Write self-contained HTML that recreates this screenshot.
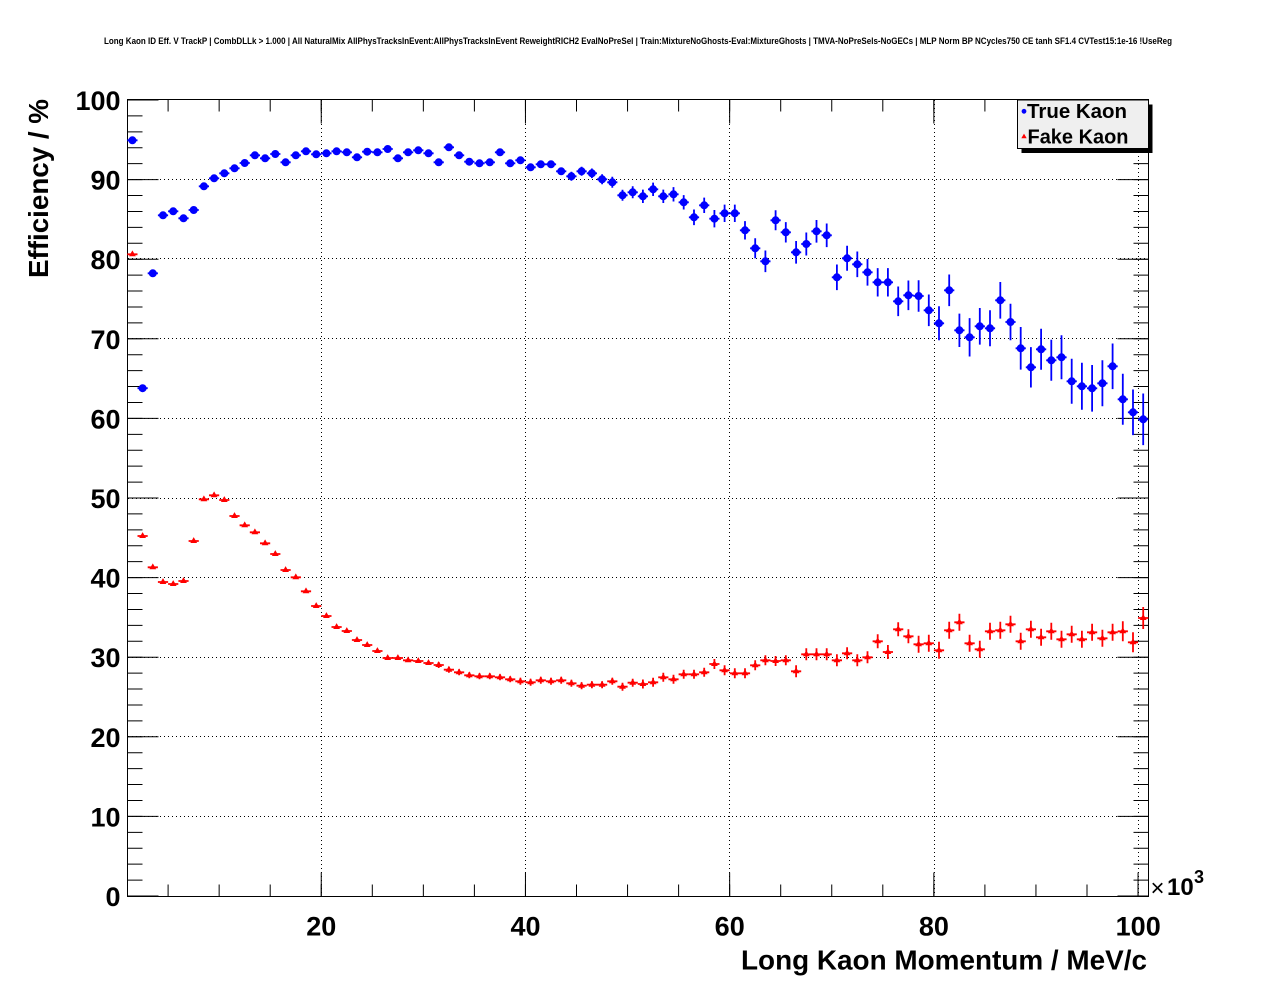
<!DOCTYPE html>
<html><head><meta charset="utf-8"><style>
html,body{margin:0;padding:0;background:#fff;}
svg{display:block;}
text{font-family:"Liberation Sans",Arial,Helvetica,sans-serif;}
</style></head><body>
<svg width="1276" height="996" viewBox="0 0 1276 996" xmlns="http://www.w3.org/2000/svg">
<rect x="0" y="0" width="1276" height="996" fill="#fff"/>
<text x="638" y="44" font-size="9" font-weight="bold" text-anchor="middle" textLength="1068" lengthAdjust="spacingAndGlyphs">Long Kaon ID Eff. V TrackP | CombDLLk &gt; 1.000 | All NaturalMix AllPhysTracksInEvent:AllPhysTracksInEvent ReweightRICH2 EvalNoPreSel | Train:MixtureNoGhosts-Eval:MixtureGhosts | TMVA-NoPreSels-NoGECs | MLP Norm BP NCycles750 CE tanh SF1.4 CVTest15:1e-16 !UseReg</text>

<g stroke="#000" stroke-width="1" stroke-dasharray="1 3" fill="none">
<path d="M321.5 100V896M525.5 100V896M729.5 100V896M934.5 100V896M1138.5 100V896"/>
<path d="M128 816.5H1148M128 736.5H1148M128 657.5H1148M128 577.5H1148M128 498.5H1148M128 418.5H1148M128 338.5H1148M128 258.5H1148M128 179.5H1148"/>
</g>

<g stroke="#000" fill="none">
<line x1="135" y1="896.5" x2="135" y2="99" stroke-width="15" stroke-dasharray="1 14.92"/>
<line x1="143" y1="896.5" x2="143" y2="99" stroke-width="31" stroke-dasharray="1 78.6"/>
<line x1="1141" y1="896.5" x2="1141" y2="99" stroke-width="15" stroke-dasharray="1 14.92"/>
<line x1="1133" y1="896.5" x2="1133" y2="99" stroke-width="31" stroke-dasharray="1 78.6"/>
<line x1="167.6" y1="890.5" x2="1149" y2="890.5" stroke-width="12" stroke-dasharray="1 50.05"/>
<line x1="320.75" y1="884.5" x2="1149" y2="884.5" stroke-width="24" stroke-dasharray="1 203.2"/>
<line x1="167.6" y1="105.5" x2="1149" y2="105.5" stroke-width="12" stroke-dasharray="1 50.05"/>
<line x1="320.75" y1="111.5" x2="1149" y2="111.5" stroke-width="24" stroke-dasharray="1 203.2"/>
<rect x="127.5" y="99.5" width="1021" height="797" stroke-width="1"/>
</g>

<!-- Fake Kaon (red) error bars -->
<path fill="none" stroke="#ff0000" stroke-width="1.8" d="M127.3 254.3h10.2M137.5 536h10.2M147.7 567.3h10.2M157.9 582h10.2M168.1 584h10.2M178.4 581h10.2M188.6 541h10.2M198.8 499.3h10.2M209 495.3h10.2M219.2 500h10.2M229.4 516h10.2M239.6 525.3h10.2M249.8 532.3h10.2M260 543.3h10.2M270.2 554h10.2M280.5 570h10.2M290.7 577.3h10.2M300.9 591.3h10.2M311.1 606h10.2M321.3 616h10.2M331.5 627h10.2M341.7 631h10.2M351.9 640h10.2M362.1 645h10.2M372.3 651h10.2M382.6 658h10.2M392.8 658h10.2M403 660.3h10.2M413.2 661h10.2M423.4 663h10.2
M433.6 665h10.2m-5.1-3v6M443.8 669.7h10.2m-5.1-3v6M454 672.3h10.2m-5.1-3v6M464.2 675.3h10.2m-5.1-3v6M474.4 676.3h10.2m-5.1-3v6M484.7 676.3h10.2m-5.1-3v6M494.9 677.3h10.2m-5.1-3v6M505.1 679.3h10.2m-5.1-3v6
M515.3 681.3h10.2m-5.1-3.5v7M525.5 682.3h10.2m-5.1-3.5v7M535.7 680.3h10.2m-5.1-3.5v7M545.9 681.3h10.2m-5.1-3.5v7M556.1 680.3h10.2m-5.1-3.5v7M566.3 683.3h10.2m-5.1-3.5v7M576.5 685.7h10.2m-5.1-3.5v7M586.8 684.7h10.2m-5.1-3.5v7M597 684.7h10.2m-5.1-3.5v7M607.2 681.3h10.2m-5.1-3.5v7
M617.4 686.7h10.2m-5.1-4v8M627.6 682.7h10.2m-5.1-4v8
M637.8 684h10.2m-5.1-4.5v9M648 682.3h10.2m-5.1-4.5v9M658.2 677.3h10.2m-5.1-4.5v9M668.4 679.3h10.2m-5.1-4.5v9M678.6 674.3h10.2m-5.1-4.5v9M688.9 674.3h10.2m-5.1-4.5v9M699.1 672.3h10.2m-5.1-4.5v9
M709.3 664h10.2m-5.1-5v10M719.5 670.3h10.2m-5.1-5v10M729.7 673.3h10.2m-5.1-5v10M739.9 673.3h10.2m-5.1-5v10M750.1 665.3h10.2m-5.1-5v10M760.3 660.3h10.2m-5.1-5v10M770.5 661h10.2m-5.1-5v10M780.7 660.3h10.2m-5.1-5v10
M791 671.3h10.2m-5.1-6v12M801.2 654.3h10.2m-5.1-6v12M811.4 654.3h10.2m-5.1-6v12M821.6 654.3h10.2m-5.1-6v12M831.8 660.3h10.2m-5.1-6v12M842 653.3h10.2m-5.1-6v12M852.2 660.3h10.2m-5.1-6v12M862.4 657.3h10.2m-5.1-6v12
M872.6 641.3h10.2m-5.1-7v14M882.8 652h10.2m-5.1-7v14M893.1 629.3h10.2m-5.1-7v14M903.3 636.3h10.2m-5.1-7v14
M913.5 644.3h10.2m-5.1-8.5v17M923.7 643.3h10.2m-5.1-8.5v17M933.9 650.3h10.2m-5.1-8.5v17M944.1 630.3h10.2m-5.1-8.5v17M954.3 622.3h10.2m-5.1-8.5v17M964.5 643.3h10.2m-5.1-8.5v17M974.7 649.3h10.2m-5.1-8.5v17M984.9 631.3h10.2m-5.1-8.5v17M995.2 630.3h10.2m-5.1-8.5v17M1005.4 624.3h10.2m-5.1-8.5v17M1015.6 641.3h10.2m-5.1-8.5v17M1025.8 629.3h10.2m-5.1-8.5v17M1036 637.3h10.2m-5.1-8.5v17M1046.2 631.3h10.2m-5.1-8.5v17M1056.4 639.3h10.2m-5.1-8.5v17M1066.6 634.3h10.2m-5.1-8.5v17M1076.8 639.3h10.2m-5.1-8.5v17M1087 632.3h10.2m-5.1-8.5v17M1097.3 638.3h10.2m-5.1-8.5v17M1107.5 632.3h10.2m-5.1-8.5v17
M1117.7 631.3h10.2m-5.1-10v20M1127.9 642.3h10.2m-5.1-10v20M1138.1 618h10.2m-5.1-11v22"/>

<!-- Fake Kaon triangles -->
<path fill="#ff0000" stroke="none" d="M132.4 254.3m0-3.9l3.4 5.9h-6.8zM142.6 536m0-3.9l3.4 5.9h-6.8zM152.8 567.3m0-3.9l3.4 5.9h-6.8zM163 582m0-3.9l3.4 5.9h-6.8zM173.2 584m0-3.9l3.4 5.9h-6.8zM183.5 581m0-3.9l3.4 5.9h-6.8zM193.7 541m0-3.9l3.4 5.9h-6.8zM203.9 499.3m0-3.9l3.4 5.9h-6.8zM214.1 495.3m0-3.9l3.4 5.9h-6.8zM224.3 500m0-3.9l3.4 5.9h-6.8zM234.5 516m0-3.9l3.4 5.9h-6.8zM244.7 525.3m0-3.9l3.4 5.9h-6.8zM254.9 532.3m0-3.9l3.4 5.9h-6.8zM265.1 543.3m0-3.9l3.4 5.9h-6.8zM275.3 554m0-3.9l3.4 5.9h-6.8zM285.6 570m0-3.9l3.4 5.9h-6.8zM295.8 577.3m0-3.9l3.4 5.9h-6.8zM306 591.3m0-3.9l3.4 5.9h-6.8zM316.2 606m0-3.9l3.4 5.9h-6.8zM326.4 616m0-3.9l3.4 5.9h-6.8zM336.6 627m0-3.9l3.4 5.9h-6.8zM346.8 631m0-3.9l3.4 5.9h-6.8zM357 640m0-3.9l3.4 5.9h-6.8zM367.2 645m0-3.9l3.4 5.9h-6.8zM377.4 651m0-3.9l3.4 5.9h-6.8zM387.7 658m0-3.9l3.4 5.9h-6.8zM397.9 658m0-3.9l3.4 5.9h-6.8zM408.1 660.3m0-3.9l3.4 5.9h-6.8zM418.3 661m0-3.9l3.4 5.9h-6.8zM428.5 663m0-3.9l3.4 5.9h-6.8zM438.7 665m0-3.9l3.4 5.9h-6.8zM448.9 669.7m0-3.9l3.4 5.9h-6.8zM459.1 672.3m0-3.9l3.4 5.9h-6.8zM469.3 675.3m0-3.9l3.4 5.9h-6.8zM479.5 676.3m0-3.9l3.4 5.9h-6.8zM489.8 676.3m0-3.9l3.4 5.9h-6.8zM500 677.3m0-3.9l3.4 5.9h-6.8zM510.2 679.3m0-3.9l3.4 5.9h-6.8zM520.4 681.3m0-3.9l3.4 5.9h-6.8zM530.6 682.3m0-3.9l3.4 5.9h-6.8zM540.8 680.3m0-3.9l3.4 5.9h-6.8zM551 681.3m0-3.9l3.4 5.9h-6.8zM561.2 680.3m0-3.9l3.4 5.9h-6.8zM571.4 683.3m0-3.9l3.4 5.9h-6.8zM581.6 685.7m0-3.9l3.4 5.9h-6.8zM591.9 684.7m0-3.9l3.4 5.9h-6.8zM602.1 684.7m0-3.9l3.4 5.9h-6.8zM612.3 681.3m0-3.9l3.4 5.9h-6.8zM622.5 686.7m0-3.9l3.4 5.9h-6.8zM632.7 682.7m0-3.9l3.4 5.9h-6.8zM642.9 684m0-3.9l3.4 5.9h-6.8zM653.1 682.3m0-3.9l3.4 5.9h-6.8zM663.3 677.3m0-3.9l3.4 5.9h-6.8zM673.5 679.3m0-3.9l3.4 5.9h-6.8zM683.7 674.3m0-3.9l3.4 5.9h-6.8zM694 674.3m0-3.9l3.4 5.9h-6.8zM704.2 672.3m0-3.9l3.4 5.9h-6.8zM714.4 664m0-3.9l3.4 5.9h-6.8zM724.6 670.3m0-3.9l3.4 5.9h-6.8zM734.8 673.3m0-3.9l3.4 5.9h-6.8zM745 673.3m0-3.9l3.4 5.9h-6.8zM755.2 665.3m0-3.9l3.4 5.9h-6.8zM765.4 660.3m0-3.9l3.4 5.9h-6.8zM775.6 661m0-3.9l3.4 5.9h-6.8zM785.8 660.3m0-3.9l3.4 5.9h-6.8zM796.1 671.3m0-3.9l3.4 5.9h-6.8zM806.3 654.3m0-3.9l3.4 5.9h-6.8zM816.5 654.3m0-3.9l3.4 5.9h-6.8zM826.7 654.3m0-3.9l3.4 5.9h-6.8zM836.9 660.3m0-3.9l3.4 5.9h-6.8zM847.1 653.3m0-3.9l3.4 5.9h-6.8zM857.3 660.3m0-3.9l3.4 5.9h-6.8zM867.5 657.3m0-3.9l3.4 5.9h-6.8zM877.7 641.3m0-3.9l3.4 5.9h-6.8zM887.9 652m0-3.9l3.4 5.9h-6.8zM898.2 629.3m0-3.9l3.4 5.9h-6.8zM908.4 636.3m0-3.9l3.4 5.9h-6.8zM918.6 644.3m0-3.9l3.4 5.9h-6.8zM928.8 643.3m0-3.9l3.4 5.9h-6.8zM939 650.3m0-3.9l3.4 5.9h-6.8zM949.2 630.3m0-3.9l3.4 5.9h-6.8zM959.4 622.3m0-3.9l3.4 5.9h-6.8zM969.6 643.3m0-3.9l3.4 5.9h-6.8zM979.8 649.3m0-3.9l3.4 5.9h-6.8zM990 631.3m0-3.9l3.4 5.9h-6.8zM1000.3 630.3m0-3.9l3.4 5.9h-6.8zM1010.5 624.3m0-3.9l3.4 5.9h-6.8zM1020.7 641.3m0-3.9l3.4 5.9h-6.8zM1030.9 629.3m0-3.9l3.4 5.9h-6.8zM1041.1 637.3m0-3.9l3.4 5.9h-6.8zM1051.3 631.3m0-3.9l3.4 5.9h-6.8zM1061.5 639.3m0-3.9l3.4 5.9h-6.8zM1071.7 634.3m0-3.9l3.4 5.9h-6.8zM1081.9 639.3m0-3.9l3.4 5.9h-6.8zM1092.1 632.3m0-3.9l3.4 5.9h-6.8zM1102.4 638.3m0-3.9l3.4 5.9h-6.8zM1112.6 632.3m0-3.9l3.4 5.9h-6.8zM1122.8 631.3m0-3.9l3.4 5.9h-6.8zM1133 642.3m0-3.9l3.4 5.9h-6.8zM1143.2 618m0-3.9l3.4 5.9h-6.8z"/>

<!-- True Kaon (blue) error bars -->
<path fill="none" stroke="#0000ff" stroke-width="1.8" d="M127.3 140.3h10.2M137.5 388.2h10.2M147.7 273.3h10.2M157.9 215.3h10.2M168.1 211.3h10.2M178.4 218.3h10.2M188.6 210h10.2M198.8 186.3h10.2M209 178.3h10.2M219.2 173.3h10.2M229.4 168.3h10.2M239.6 163h10.2M249.8 155.3h10.2M260 158.3h10.2M270.2 154h10.2M280.5 162.3h10.2M290.7 155.3h10.2M300.9 151.3h10.2M311.1 154.3h10.2M321.3 153.3h10.2M331.5 151.3h10.2M341.7 152.3h10.2M351.9 157.3h10.2M362.1 151.7h10.2M372.3 152.3h10.2M382.6 149h10.2M392.8 158.3h10.2M403 152.3h10.2M413.2 150.3h10.2M423.4 153.3h10.2M433.6 162.3h10.2M443.8 147.3h10.2M454 155.3h10.2M464.2 161.7h10.2M474.4 163.3h10.2M484.7 162.3h10.2M494.9 152.3h10.2M505.1 163.3h10.2M515.3 160.3h10.2M525.5 167.3h10.2M535.7 164.3h10.2M545.9 164.3h10.2M556.1 171.3h10.2
M566.3 176.3h10.2m-5.1-4.5v9M576.5 171.3h10.2m-5.1-4.5v9M586.8 173.3h10.2m-5.1-4.8v9.6M597 179.3h10.2m-5.1-5v10M607.2 182.3h10.2m-5.1-5.5v11M617.4 195.3h10.2m-5.1-5.5v11M627.6 192.3h10.2m-5.1-6v12M637.8 196.3h10.2m-5.1-6.7v13.4M648 189.3h10.2m-5.1-6.7v13.4M658.2 196.3h10.2m-5.1-6.7v13.4M668.4 194.3h10.2m-5.1-7.2v14.4M678.6 202.3h10.2m-5.1-7.2v14.4M688.9 217.3h10.2m-5.1-7.8v15.6M699.1 205.3h10.2m-5.1-7.7v15.4M709.3 218.7h10.2m-5.1-8.7v17.4M719.5 213.3h10.2m-5.1-8.7v17.4M729.7 213.3h10.2m-5.1-8.7v17.4M739.9 230.3h10.2m-5.1-9.2v18.4M750.1 248.3h10.2m-5.1-10v20M760.3 261.3h10.2m-5.1-10.8v21.6M770.5 220.3h10.2m-5.1-10v20M780.7 232.3h10.2m-5.1-10.2v20.4M791 252.3h10.2m-5.1-11.3v22.6M801.2 244h10.2m-5.1-11.5v23M811.4 231.3h10.2m-5.1-11.3v22.6M821.6 235.3h10.2m-5.1-11.8v23.6M831.8 277.3h10.2m-5.1-12.8v25.6M842 258.3h10.2m-5.1-12.5v25M852.2 264.3h10.2m-5.1-12.8v25.6M862.4 272.3h10.2m-5.1-13.3v26.6M872.6 282.3h10.2m-5.1-14.2v28.4M882.8 282.3h10.2m-5.1-14.2v28.4M893.1 301.3h10.2m-5.1-14.8v29.6M903.3 295.3h10.2m-5.1-14.8v29.6M913.5 296h10.2m-5.1-15.8v31.6M923.7 310.3h10.2m-5.1-15.8v31.6M933.9 323.3h10.2m-5.1-17v34M944.1 290.3h10.2m-5.1-15.8v31.6M954.3 330.3h10.2m-5.1-16.7v33.4M964.5 337.3h10.2m-5.1-19.2v38.4M974.7 326.3h10.2m-5.1-18.3v36.6M984.9 328.3h10.2m-5.1-18v36M995.2 300.3h10.2m-5.1-18.3v36.6M1005.4 322h10.2m-5.1-18.3v36.6M1015.6 348.3h10.2m-5.1-21.3v42.6M1025.8 367.3h10.2m-5.1-20.2v40.4M1036 349.3h10.2m-5.1-20.5v41M1046.2 360.3h10.2m-5.1-20.5v41M1056.4 357.3h10.2m-5.1-22v44M1066.6 381.3h10.2m-5.1-22.5v45M1076.8 386.3h10.2m-5.1-23.5v47M1087 388.3h10.2m-5.1-23.3v46.6M1097.3 383.3h10.2m-5.1-23v46M1107.5 366.3h10.2m-5.1-22.8v45.6M1117.7 399.3h10.2m-5.1-25.5v51M1127.9 412.3h10.2m-5.1-22.8v45.6M1138.1 419.3h10.2m-5.1-25.8v51.6"/>

<!-- True Kaon circles -->
<path fill="#0000ff" stroke="none" d="M132.4 140.3m-4 0a4 4 0 1 0 8 0a4 4 0 1 0-8 0M142.6 388.2m-4 0a4 4 0 1 0 8 0a4 4 0 1 0-8 0M152.8 273.3m-4 0a4 4 0 1 0 8 0a4 4 0 1 0-8 0M163 215.3m-4 0a4 4 0 1 0 8 0a4 4 0 1 0-8 0M173.2 211.3m-4 0a4 4 0 1 0 8 0a4 4 0 1 0-8 0M183.5 218.3m-4 0a4 4 0 1 0 8 0a4 4 0 1 0-8 0M193.7 210m-4 0a4 4 0 1 0 8 0a4 4 0 1 0-8 0M203.9 186.3m-4 0a4 4 0 1 0 8 0a4 4 0 1 0-8 0M214.1 178.3m-4 0a4 4 0 1 0 8 0a4 4 0 1 0-8 0M224.3 173.3m-4 0a4 4 0 1 0 8 0a4 4 0 1 0-8 0M234.5 168.3m-4 0a4 4 0 1 0 8 0a4 4 0 1 0-8 0M244.7 163m-4 0a4 4 0 1 0 8 0a4 4 0 1 0-8 0M254.9 155.3m-4 0a4 4 0 1 0 8 0a4 4 0 1 0-8 0M265.1 158.3m-4 0a4 4 0 1 0 8 0a4 4 0 1 0-8 0M275.3 154m-4 0a4 4 0 1 0 8 0a4 4 0 1 0-8 0M285.6 162.3m-4 0a4 4 0 1 0 8 0a4 4 0 1 0-8 0M295.8 155.3m-4 0a4 4 0 1 0 8 0a4 4 0 1 0-8 0M306 151.3m-4 0a4 4 0 1 0 8 0a4 4 0 1 0-8 0M316.2 154.3m-4 0a4 4 0 1 0 8 0a4 4 0 1 0-8 0M326.4 153.3m-4 0a4 4 0 1 0 8 0a4 4 0 1 0-8 0M336.6 151.3m-4 0a4 4 0 1 0 8 0a4 4 0 1 0-8 0M346.8 152.3m-4 0a4 4 0 1 0 8 0a4 4 0 1 0-8 0M357 157.3m-4 0a4 4 0 1 0 8 0a4 4 0 1 0-8 0M367.2 151.7m-4 0a4 4 0 1 0 8 0a4 4 0 1 0-8 0M377.4 152.3m-4 0a4 4 0 1 0 8 0a4 4 0 1 0-8 0M387.7 149m-4 0a4 4 0 1 0 8 0a4 4 0 1 0-8 0M397.9 158.3m-4 0a4 4 0 1 0 8 0a4 4 0 1 0-8 0M408.1 152.3m-4 0a4 4 0 1 0 8 0a4 4 0 1 0-8 0M418.3 150.3m-4 0a4 4 0 1 0 8 0a4 4 0 1 0-8 0M428.5 153.3m-4 0a4 4 0 1 0 8 0a4 4 0 1 0-8 0M438.7 162.3m-4 0a4 4 0 1 0 8 0a4 4 0 1 0-8 0M448.9 147.3m-4 0a4 4 0 1 0 8 0a4 4 0 1 0-8 0M459.1 155.3m-4 0a4 4 0 1 0 8 0a4 4 0 1 0-8 0M469.3 161.7m-4 0a4 4 0 1 0 8 0a4 4 0 1 0-8 0M479.5 163.3m-4 0a4 4 0 1 0 8 0a4 4 0 1 0-8 0M489.8 162.3m-4 0a4 4 0 1 0 8 0a4 4 0 1 0-8 0M500 152.3m-4 0a4 4 0 1 0 8 0a4 4 0 1 0-8 0M510.2 163.3m-4 0a4 4 0 1 0 8 0a4 4 0 1 0-8 0M520.4 160.3m-4 0a4 4 0 1 0 8 0a4 4 0 1 0-8 0M530.6 167.3m-4 0a4 4 0 1 0 8 0a4 4 0 1 0-8 0M540.8 164.3m-4 0a4 4 0 1 0 8 0a4 4 0 1 0-8 0M551 164.3m-4 0a4 4 0 1 0 8 0a4 4 0 1 0-8 0M561.2 171.3m-4 0a4 4 0 1 0 8 0a4 4 0 1 0-8 0M571.4 176.3m-4 0a4 4 0 1 0 8 0a4 4 0 1 0-8 0M581.6 171.3m-4 0a4 4 0 1 0 8 0a4 4 0 1 0-8 0M591.9 173.3m-4 0a4 4 0 1 0 8 0a4 4 0 1 0-8 0M602.1 179.3m-4 0a4 4 0 1 0 8 0a4 4 0 1 0-8 0M612.3 182.3m-4 0a4 4 0 1 0 8 0a4 4 0 1 0-8 0M622.5 195.3m-4 0a4 4 0 1 0 8 0a4 4 0 1 0-8 0M632.7 192.3m-4 0a4 4 0 1 0 8 0a4 4 0 1 0-8 0M642.9 196.3m-4 0a4 4 0 1 0 8 0a4 4 0 1 0-8 0M653.1 189.3m-4 0a4 4 0 1 0 8 0a4 4 0 1 0-8 0M663.3 196.3m-4 0a4 4 0 1 0 8 0a4 4 0 1 0-8 0M673.5 194.3m-4 0a4 4 0 1 0 8 0a4 4 0 1 0-8 0M683.7 202.3m-4 0a4 4 0 1 0 8 0a4 4 0 1 0-8 0M694 217.3m-4 0a4 4 0 1 0 8 0a4 4 0 1 0-8 0M704.2 205.3m-4 0a4 4 0 1 0 8 0a4 4 0 1 0-8 0M714.4 218.7m-4 0a4 4 0 1 0 8 0a4 4 0 1 0-8 0M724.6 213.3m-4 0a4 4 0 1 0 8 0a4 4 0 1 0-8 0M734.8 213.3m-4 0a4 4 0 1 0 8 0a4 4 0 1 0-8 0M745 230.3m-4 0a4 4 0 1 0 8 0a4 4 0 1 0-8 0M755.2 248.3m-4 0a4 4 0 1 0 8 0a4 4 0 1 0-8 0M765.4 261.3m-4 0a4 4 0 1 0 8 0a4 4 0 1 0-8 0M775.6 220.3m-4 0a4 4 0 1 0 8 0a4 4 0 1 0-8 0M785.8 232.3m-4 0a4 4 0 1 0 8 0a4 4 0 1 0-8 0M796.1 252.3m-4 0a4 4 0 1 0 8 0a4 4 0 1 0-8 0M806.3 244m-4 0a4 4 0 1 0 8 0a4 4 0 1 0-8 0M816.5 231.3m-4 0a4 4 0 1 0 8 0a4 4 0 1 0-8 0M826.7 235.3m-4 0a4 4 0 1 0 8 0a4 4 0 1 0-8 0M836.9 277.3m-4 0a4 4 0 1 0 8 0a4 4 0 1 0-8 0M847.1 258.3m-4 0a4 4 0 1 0 8 0a4 4 0 1 0-8 0M857.3 264.3m-4 0a4 4 0 1 0 8 0a4 4 0 1 0-8 0M867.5 272.3m-4 0a4 4 0 1 0 8 0a4 4 0 1 0-8 0M877.7 282.3m-4 0a4 4 0 1 0 8 0a4 4 0 1 0-8 0M887.9 282.3m-4 0a4 4 0 1 0 8 0a4 4 0 1 0-8 0M898.2 301.3m-4 0a4 4 0 1 0 8 0a4 4 0 1 0-8 0M908.4 295.3m-4 0a4 4 0 1 0 8 0a4 4 0 1 0-8 0M918.6 296m-4 0a4 4 0 1 0 8 0a4 4 0 1 0-8 0M928.8 310.3m-4 0a4 4 0 1 0 8 0a4 4 0 1 0-8 0M939 323.3m-4 0a4 4 0 1 0 8 0a4 4 0 1 0-8 0M949.2 290.3m-4 0a4 4 0 1 0 8 0a4 4 0 1 0-8 0M959.4 330.3m-4 0a4 4 0 1 0 8 0a4 4 0 1 0-8 0M969.6 337.3m-4 0a4 4 0 1 0 8 0a4 4 0 1 0-8 0M979.8 326.3m-4 0a4 4 0 1 0 8 0a4 4 0 1 0-8 0M990 328.3m-4 0a4 4 0 1 0 8 0a4 4 0 1 0-8 0M1000.3 300.3m-4 0a4 4 0 1 0 8 0a4 4 0 1 0-8 0M1010.5 322m-4 0a4 4 0 1 0 8 0a4 4 0 1 0-8 0M1020.7 348.3m-4 0a4 4 0 1 0 8 0a4 4 0 1 0-8 0M1030.9 367.3m-4 0a4 4 0 1 0 8 0a4 4 0 1 0-8 0M1041.1 349.3m-4 0a4 4 0 1 0 8 0a4 4 0 1 0-8 0M1051.3 360.3m-4 0a4 4 0 1 0 8 0a4 4 0 1 0-8 0M1061.5 357.3m-4 0a4 4 0 1 0 8 0a4 4 0 1 0-8 0M1071.7 381.3m-4 0a4 4 0 1 0 8 0a4 4 0 1 0-8 0M1081.9 386.3m-4 0a4 4 0 1 0 8 0a4 4 0 1 0-8 0M1092.1 388.3m-4 0a4 4 0 1 0 8 0a4 4 0 1 0-8 0M1102.4 383.3m-4 0a4 4 0 1 0 8 0a4 4 0 1 0-8 0M1112.6 366.3m-4 0a4 4 0 1 0 8 0a4 4 0 1 0-8 0M1122.8 399.3m-4 0a4 4 0 1 0 8 0a4 4 0 1 0-8 0M1133 412.3m-4 0a4 4 0 1 0 8 0a4 4 0 1 0-8 0M1143.2 419.3m-4 0a4 4 0 1 0 8 0a4 4 0 1 0-8 0"/>

<!-- Legend -->
<rect x="1021.5" y="104.5" width="131" height="48.5" fill="#000"/>
<rect x="1017.5" y="100" width="131" height="48.5" fill="#efefef" stroke="#000" stroke-width="1"/>
<circle cx="1024" cy="111.3" r="2.4" fill="#0000ff"/>
<text x="1027" y="118" font-size="20" font-weight="bold" textLength="100" lengthAdjust="spacingAndGlyphs">True Kaon</text>
<path d="M1024 133.6l2.7 4.6h-5.4z" fill="#ff0000"/>
<text x="1027.5" y="143.3" font-size="20" font-weight="bold" textLength="101" lengthAdjust="spacingAndGlyphs">Fake Kaon</text>

<!-- Y tick labels -->
<g font-size="27" font-weight="bold" text-anchor="end">
<text x="120.5" y="110">100</text>
<text x="120.5" y="189.6">90</text>
<text x="120.5" y="269.2">80</text>
<text x="120.5" y="348.8">70</text>
<text x="120.5" y="428.4">60</text>
<text x="120.5" y="508">50</text>
<text x="120.5" y="587.6">40</text>
<text x="120.5" y="667.2">30</text>
<text x="120.5" y="746.8">20</text>
<text x="120.5" y="826.4">10</text>
<text x="120.5" y="906">0</text>
</g>
<!-- X tick labels -->
<g font-size="27" font-weight="bold" text-anchor="middle">
<text x="321.3" y="935.5">20</text>
<text x="525.5" y="935.5">40</text>
<text x="729.7" y="935.5">60</text>
<text x="933.9" y="935.5">80</text>
<text x="1138.2" y="935.5">100</text>
</g>
<text x="1150.5" y="896" font-size="24">×</text>
<text x="1167" y="895" font-size="24" font-weight="bold">10</text>
<text x="1194" y="883" font-size="18" font-weight="bold">3</text>

<!-- Axis titles -->
<text x="1147" y="969.5" font-size="28" font-weight="bold" text-anchor="end" textLength="406" lengthAdjust="spacingAndGlyphs">Long Kaon Momentum / MeV/c</text>
<text transform="translate(48,99) rotate(-90)" x="0" y="0" font-size="28" font-weight="bold" text-anchor="end" textLength="179" lengthAdjust="spacingAndGlyphs">Efficiency / %</text>
</svg>
</body></html>
